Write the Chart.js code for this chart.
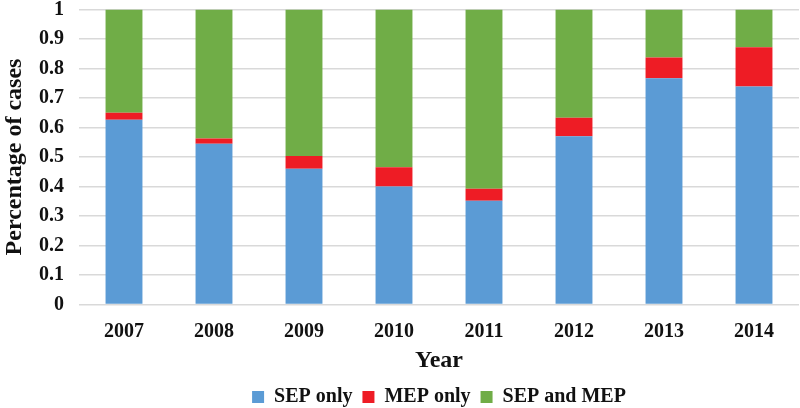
<!DOCTYPE html>
<html>
<head>
<meta charset="utf-8">
<script src="https://cdn.jsdelivr.net/npm/chart.js@4.4.0/dist/chart.umd.min.js"></script>
<style>
  html, body { margin: 0; padding: 0; background: #fff; }
  #wrap { width: 800px; height: 408px; }
</style>
</head>
<body>
<div id="wrap"><canvas id="mycanvas"></canvas></div>
<script>
var years = ["2007", "2008", "2009", "2010", "2011", "2012", "2013", "2014"];
var sepOnly = [0.626, 0.545, 0.46, 0.40, 0.352, 0.57, 0.767, 0.739];
var mepOnly = [0.024, 0.018, 0.043, 0.065, 0.04, 0.063, 0.07, 0.133];
var sepAndMep = [0.35, 0.437, 0.497, 0.535, 0.608, 0.367, 0.163, 0.128];

var serif = "'Liberation Serif', 'Times New Roman', serif";

var chartdata = {
  labels: years,
  datasets: [
    { label: "SEP only", data: sepOnly, backgroundColor: "#5B9BD5" },
    { label: "MEP only", data: mepOnly, backgroundColor: "#EE1C25" },
    { label: "SEP and MEP", data: sepAndMep, backgroundColor: "#70AD47" }
  ]
};

// nudge the legend so it sits centred under the plot area like the original
var legendShift = {
  id: 'legendShift',
  afterLayout: function(chart) {
    var lg = chart.legend;
    var dx = (chart.chartArea.left + chart.chartArea.right) / 2 - (lg.left + lg.right) / 2;
    var dy = 397 - (lg.top + lg.bottom) / 2;
    lg.left += dx;
    lg.right += dx;
    lg.top += dy;
    lg.bottom += dy;
  }
};

var ctx = document.getElementById("mycanvas");

var barChart = new Chart(ctx, {
  type: 'bar',
  data: chartdata,
  plugins: [legendShift],
  options: {
    responsive: true,
    maintainAspectRatio: false,
    animation: false,
    datasets: { bar: { barPercentage: 0.41, categoryPercentage: 1 } },
    layout: { padding: { top: 9.5, right: 1, left: 0, bottom: 0 } },
    plugins: {
      tooltip: { enabled: false },
      legend: {
        position: 'bottom',
        labels: {
          boxWidth: 12,
          boxHeight: 12,
          padding: 10,
          color: "#111",
          font: { family: serif, size: 20, weight: 'bold' }
        }
      }
    },
    scales: {
      x: {
        stacked: true,
        grid: { display: false },
        border: { display: false },
        ticks: { color: "#111", padding: 7, font: { family: serif, size: 20, weight: 'bold' } },
        title: {
          display: true,
          text: "Year",
          color: "#111",
          padding: { top: 0, bottom: -7 },
          font: { family: serif, size: 24, weight: 'bold' }
        },
        afterFit: function(scale) { scale.height = 63.5; }
      },
      y: {
        stacked: true,
        min: 0,
        max: 1,
        grid: { color: "#d9d9d9", lineWidth: 1.5, drawTicks: false },
        border: { display: false },
        ticks: {
          stepSize: 0.1,
          autoSkip: false,
          color: "#111",
          padding: 15,
          font: { family: serif, size: 20, weight: 'bold' },
          callback: function(v) { return String(Math.round(v * 10) / 10); }
        },
        title: {
          display: true,
          text: "Percentage of cases",
          color: "#111",
          padding: 0,
          font: { family: serif, size: 24, weight: 'bold' }
        },
        afterFit: function(scale) {
          scale.width = 79;
          scale.paddingTop = 0;
          scale.paddingBottom = 0;
        }
      }
    }
  }
});
</script>
</body>
</html>
